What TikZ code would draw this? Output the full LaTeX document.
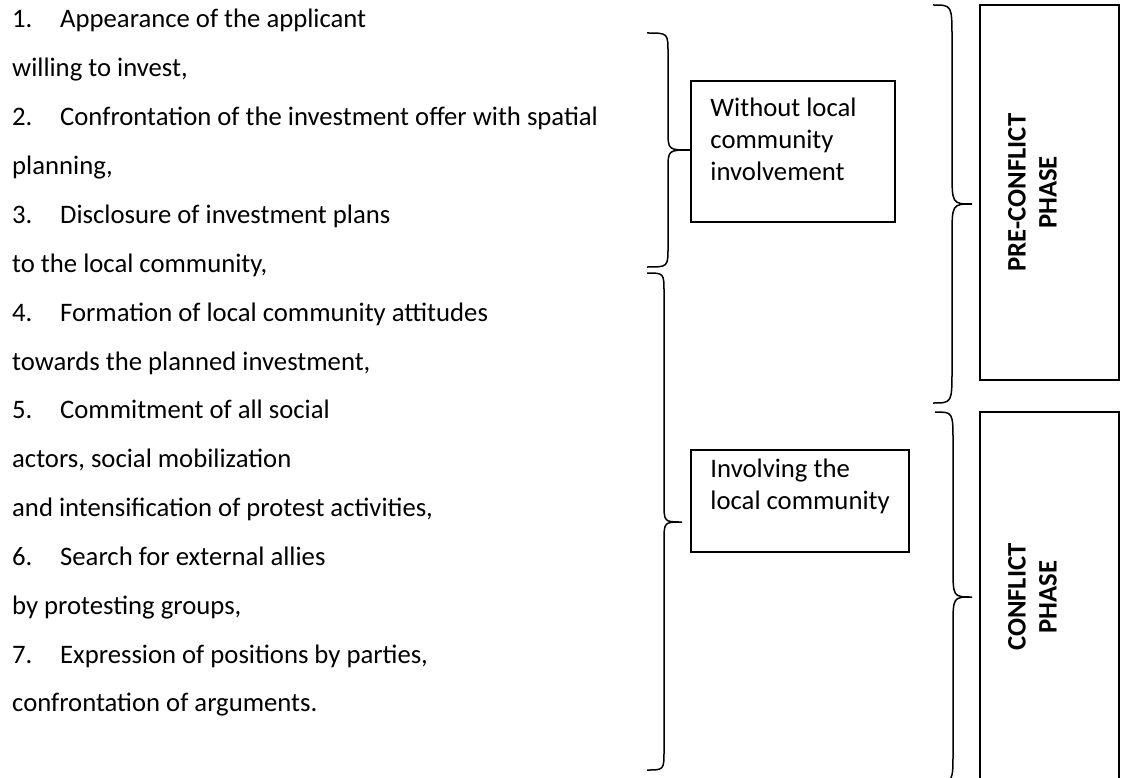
\documentclass[tikz,border=0pt]{standalone}
\usepackage{fontspec}
\setmainfont{Carlito}
\usetikzlibrary{positioning, calc}

\tikzset{
  listline/.style={anchor=base west, inner sep=0pt},
  stagebox/.style={draw, line width=1.5pt, inner sep=0pt},
  boxtext/.style={align=left, anchor=north west, inner sep=0pt},
  phasetext/.style={rotate=90, align=center, inner sep=0pt,
    font=\fontsize{26.7pt}{31pt}\selectfont\bfseries},
  bracket/.style={line width=1.5pt}
}
\newcommand{\itemno}[1]{\makebox[48pt][l]{#1}}
% curly brace like the word one: end x, spine x, tip x, top y, tip y, bottom y, curl
\newcommand{\wordbrace}[7]{%
  \draw[bracket] (#1,#4) .. controls (#2,#4) .. (#2,#4+#7) -- (#2,#5-#7)
    .. controls (#2,#5) .. (#3,#5) .. controls (#2,#5) .. (#2,#5+#7)
    -- (#2,#6-#7) .. controls (#2,#6) .. (#1,#6);}

\begin{document}
\begin{tikzpicture}[x=1pt, y=-1pt,
    every node/.style={font=\fontsize{26.7pt}{32pt}\selectfont}]
  \useasboundingbox (0,0) rectangle (1142,778);
  \clip (0,0) rectangle (1142,778);

  % the seven steps
  \node[listline] (l1) at (12,28) {\itemno{1.}Appearance of the applicant};
  \node[listline] (l2) at (12,76.9) {willing to invest,};
  \node[listline] (l3) at (12,125.7) {\itemno{2.}Confrontation of the investment offer with spatial};
  \node[listline] (l4) at (12,174.6) {planning,};
  \node[listline] (l5) at (12,223.4) {\itemno{3.}Disclosure of investment plans};
  \node[listline] (l6) at (12,272.3) {to the local community,};
  \node[listline] (l7) at (12,321.1) {\itemno{4.}Formation of local community attitudes};
  \node[listline] (l8) at (12,370) {towards the planned investment,};
  \node[listline] (l9) at (12,418.8) {\itemno{5.}Commitment of all social};
  \node[listline] (l10) at (12,467.7) {actors, social mobilization};
  \node[listline] (l11) at (12,516.5) {and intensification of protest activities,};
  \node[listline] (l12) at (12,565.4) {\itemno{6.}Search for external allies};
  \node[listline] (l13) at (12,614.2) {by protesting groups,};
  \node[listline] (l14) at (12,663.1) {\itemno{7.}Expression of positions by parties,};
  \node[listline] (l15) at (12,711.9) {confrontation of arguments.};

  % community boxes
  \node[stagebox, minimum width=204pt, minimum height=141pt] (without) at (793,151.5) {};
  \node[boxtext] (withouttxt) at ([xshift=20pt, yshift=-17.5pt]without.north west)
    {Without local\\community\\involvement};
  \node[stagebox, minimum width=218pt, minimum height=102pt] (involving) at (800,501) {};
  \node[boxtext] (involvingtxt) at ([xshift=20pt, yshift=-9.5pt]involving.north west)
    {Involving the\\local community};

  % phase boxes
  \node[stagebox, minimum width=139pt, minimum height=375pt] (pre) at (1049.5,192.5) {};
  \node[phasetext] (pretxt) at ([xshift=-17pt]pre.center) {PRE-CONFLICT\\PHASE};
  \node[stagebox, minimum width=139pt, minimum height=370pt] (conflict) at (1049.5,597) {};
  \node[phasetext] (conflicttxt) at ([xshift=-17pt]conflict.center) {CONFLICT\\PHASE};

  % braces
  \wordbrace{647}{668}{690}{33}{150}{267}{20}
  \wordbrace{647}{664}{682}{273}{522}{770}{20}
  \wordbrace{933}{952}{972}{5}{204}{403}{34}
  \wordbrace{935}{953}{972}{412}{597}{782}{30}
\end{tikzpicture}
\end{document}
